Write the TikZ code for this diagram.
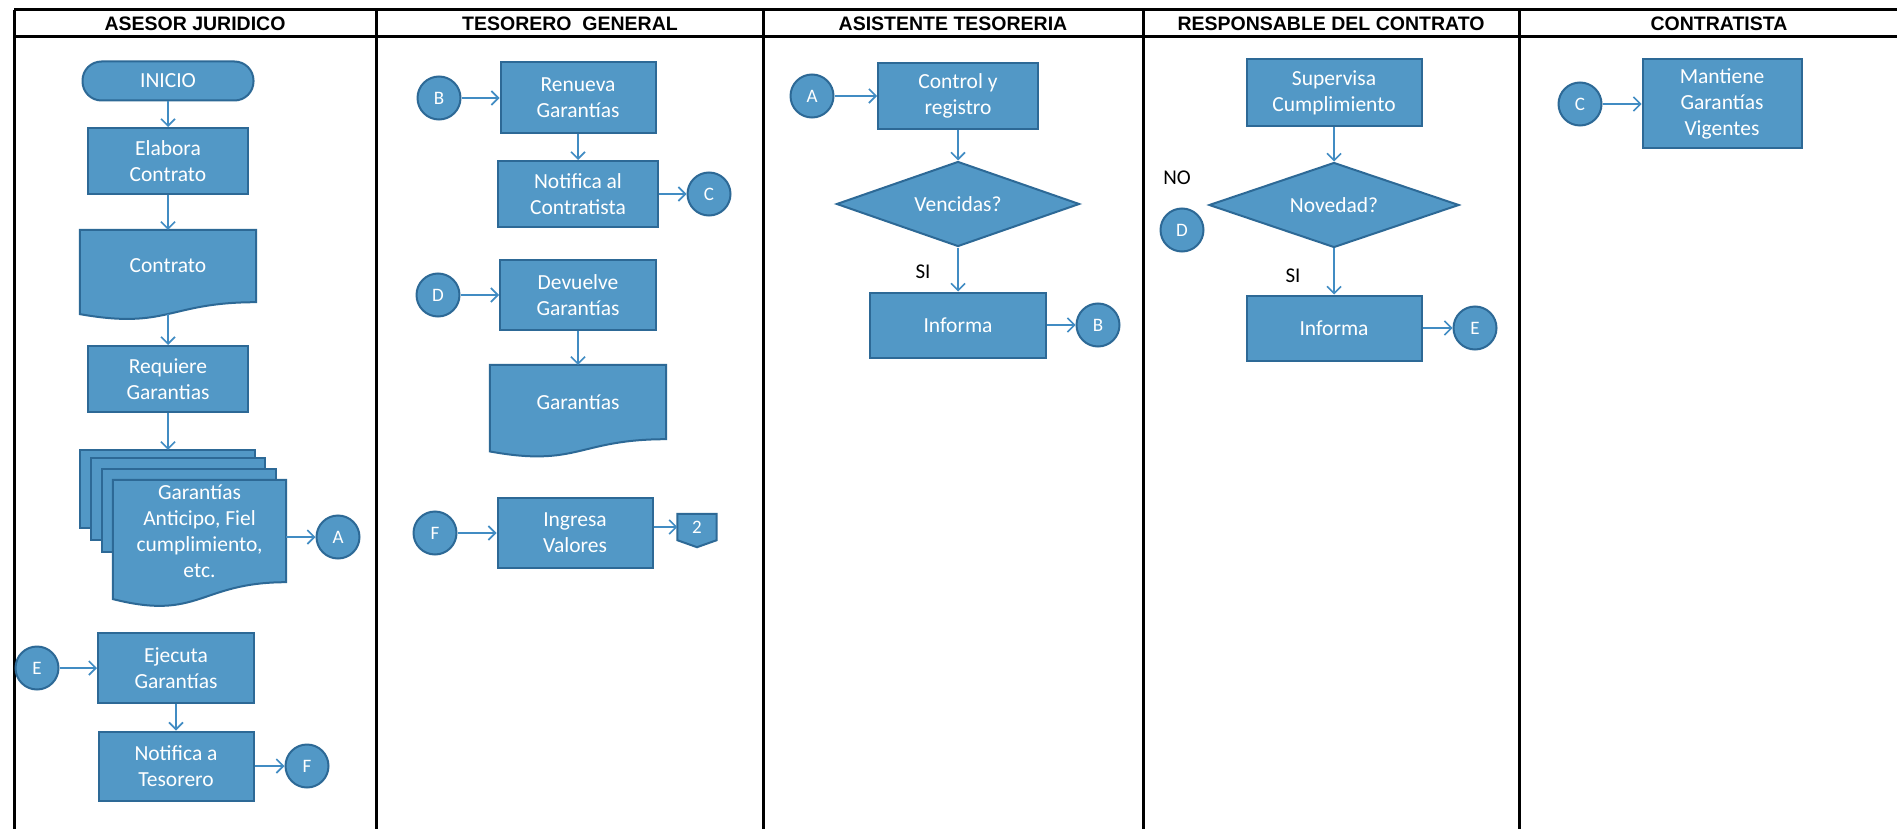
\documentclass[tikz,border=0pt]{standalone}
\usepackage{fontspec}
\setmainfont{Carlito}
\newfontfamily\hdrfont{Liberation Sans}
\usetikzlibrary{arrows.meta,shapes.geometric,calc,backgrounds}
\definecolor{boxfill}{RGB}{82,152,198}
\definecolor{boxdraw}{RGB}{45,105,150}
\definecolor{arrowblue}{RGB}{65,140,195}
\newcommand\docbody[1]{%
  \path[shp] (#1.north west) -- (#1.north east) -- (#1.south east)
    .. controls (#1.south) and ($(#1.north)!1.381!(#1.south)$)
    .. ($(#1.north west)!1.1646!(#1.south west)$) -- cycle;}
\begin{document}
\begin{tikzpicture}[x=1pt,y=-1pt,
  lane/.style={draw=black, line width=3pt},
  hdr/.style={font=\hdrfont\bfseries\fontsize{19.5}{22}\selectfont, inner sep=0pt, text=black},
  shp/.style={fill=boxfill, draw=boxdraw, line width=2pt},
  nfont/.style={font=\fontsize{21.5}{26}\selectfont},
  proc/.style={rectangle, shp, text=white, align=center, nfont, inner sep=2pt},
  term/.style={proc, rounded corners=19pt},
  docn/.style={rectangle, text=white, align=center, nfont, inner sep=2pt},
  dec/.style={diamond, aspect=2.9, shp, text=white, align=center, nfont, inner sep=0pt},
  conn/.style={circle, shp, text=white, minimum size=43pt, inner sep=0pt, font=\fontsize{19}{21}\selectfont},
  lbl/.style={font=\fontsize{21}{24}\selectfont, text=black, inner sep=0pt},
  arr/.style={draw=arrowblue, line width=1.6pt, -{Straight Barb[length=7pt,width=14pt,line width=1.6pt]}}
]
\useasboundingbox (0,0) rectangle (1897,829);
\begin{pgfonlayer}{background}
\fill[white] (0,0) rectangle (1897,829);
\end{pgfonlayer}

% swimlane grid
\draw[lane] (14,10) -- (1897,10);
\draw[lane] (14,37) -- (1897,37);
\foreach \x in {14,376,763,1143,1519} \draw[lane] (\x,10) -- (\x,829);

\node[hdr] (h1) at (195,24) {ASESOR JURIDICO};
\node[hdr] (h2) at (570,24) {TESORERO\ \ GENERAL};
\node[hdr] (h3) at (953,24) {ASISTENTE TESORERIA};
\node[hdr] (h4) at (1331,24) {RESPONSABLE DEL CONTRATO};
\node[hdr] (h5) at (1719,24) {CONTRATISTA};

% Lane 1
\node[term, minimum width=171pt, minimum height=39pt] (inicio) at (168,81) {INICIO};
\node[proc, minimum width=160pt, minimum height=66pt] (elabora) at (168,161) {Elabora\\Contrato};
\node[docn, minimum width=176pt, minimum height=72pt] (contrato) at (168,266) {Contrato};
\node[proc, minimum width=160pt, minimum height=66pt] (requiere) at (168,379) {Requiere\\Garantias};
\node[docn, minimum width=173pt, minimum height=102pt] (garmd) at (199.5,531) {Garantías\\Anticipo, Fiel\\cumplimiento,\\etc.};
\node[conn] (A1) at (338,537) {A};
\node[conn] (E1) at (37,668) {E};
\node[proc, minimum width=156pt, minimum height=70pt] (ejecuta) at (176,668) {Ejecuta\\Garantías};
\node[proc, minimum width=155pt, minimum height=69pt] (notTes) at (176,766) {Notifica a\\Tesorero};
\node[conn] (F1) at (307,766) {F};

% Lane 2
\node[conn] (B2) at (439,98) {B};
\node[proc, minimum width=155pt, minimum height=71pt] (renueva) at (578,98) {Renueva\\Garantías};
\node[proc, minimum width=160pt, minimum height=66pt] (notCon) at (578,194) {Notifica al\\Contratista};
\node[conn] (C2) at (709,194) {C};
\node[conn] (D2) at (438,295) {D};
\node[proc, minimum width=156pt, minimum height=70pt] (devuelve) at (578,295) {Devuelve\\Garantías};
\node[docn, minimum width=176pt, minimum height=74pt] (gardoc) at (578,402) {Garantías};
\node[conn] (F2) at (435,533) {F};
\node[proc, minimum width=155pt, minimum height=70pt] (ingresa) at (575,533) {Ingresa\\Valores};
\node[docn, minimum width=39pt, minimum height=26pt, inner sep=0pt, font=\fontsize{19}{21}\selectfont] (off2) at (697,527) {2};

% Lane 3
\node[conn] (A3) at (812,96) {A};
\node[proc, minimum width=160pt, minimum height=66pt] (control) at (958,96) {Control y\\registro};
\node[dec, minimum width=243pt, minimum height=85pt] (vencidas) at (958,204) {Vencidas?};
\node[lbl] (si3) at (923,272) {SI};
\node[proc, minimum width=176pt, minimum height=65pt] (informa3) at (958,325) {Informa};
\node[conn] (B3) at (1098,325) {B};

% Lane 4
\node[proc, minimum width=175pt, minimum height=67pt] (supervisa) at (1334,93) {Supervisa\\Cumplimiento};
\node[dec, minimum width=250pt, minimum height=85pt] (novedad) at (1334,205) {Novedad?};
\node[lbl] (no4) at (1177,178) {NO};
\node[conn] (D4) at (1182,230) {D};
\node[lbl] (si4) at (1293,276) {SI};
\node[proc, minimum width=175pt, minimum height=65pt] (informa4) at (1334,328) {Informa};
\node[conn] (E4) at (1475,328) {E};

% Lane 5
\node[conn] (C5) at (1580,104) {C};
\node[proc, minimum width=159pt, minimum height=89pt] (mantiene) at (1722,104) {Mantiene\\Garantías\\Vigentes};

% document shapes (drawn behind their texts)
\begin{pgfonlayer}{background}
  \docbody{contrato}
  \path[shp] ([xshift=-33pt,yshift=30pt]garmd.north west) rectangle ([xshift=-31pt,yshift=-48pt]garmd.north east);
  \path[shp] ([xshift=-22pt,yshift=22pt]garmd.north west) rectangle ([xshift=-21pt,yshift=-60pt]garmd.north east);
  \path[shp] ([xshift=-11pt,yshift=11pt]garmd.north west) rectangle ([xshift=-10pt,yshift=-72pt]garmd.north east);
  \docbody{garmd}
  \docbody{gardoc}
  \path[shp] (off2.north west) -- (off2.north east) -- (off2.south east) -- ([yshift=-7pt]off2.south) -- (off2.south west) -- cycle;
\end{pgfonlayer}
\coordinate (mdtop) at ([xshift=-33pt,yshift=30pt]garmd.north);

% connectors
\draw[arr] (inicio) -- (elabora);
\draw[arr] (elabora) -- (contrato);
\draw[arr] ($(contrato.north)!1.163!(contrato.south)$) -- (requiere);
\draw[arr] (requiere) -- (requiere |- mdtop);
\draw[arr] (garmd.east |- A1) -- (A1);
\draw[arr] (E1) -- (ejecuta);
\draw[arr] (ejecuta) -- (notTes);
\draw[arr] (notTes) -- (F1);
\draw[arr] (B2) -- (renueva);
\draw[arr] (renueva) -- (notCon);
\draw[arr] (notCon) -- (C2);
\draw[arr] (D2) -- (devuelve);
\draw[arr] (devuelve) -- (gardoc);
\draw[arr] (F2) -- (ingresa);
\draw[arr] (ingresa.east |- off2.west) -- (off2.west);
\draw[arr] (A3) -- (control);
\draw[arr] (control) -- (vencidas);
\draw[arr] (vencidas) -- (informa3);
\draw[arr] (informa3) -- (B3);
\draw[arr] (supervisa) -- (novedad);
\draw[arr] (novedad) -- (informa4);
\draw[arr] (informa4) -- (E4);
\draw[arr] (C5) -- (mantiene);
\end{tikzpicture}
\end{document}
